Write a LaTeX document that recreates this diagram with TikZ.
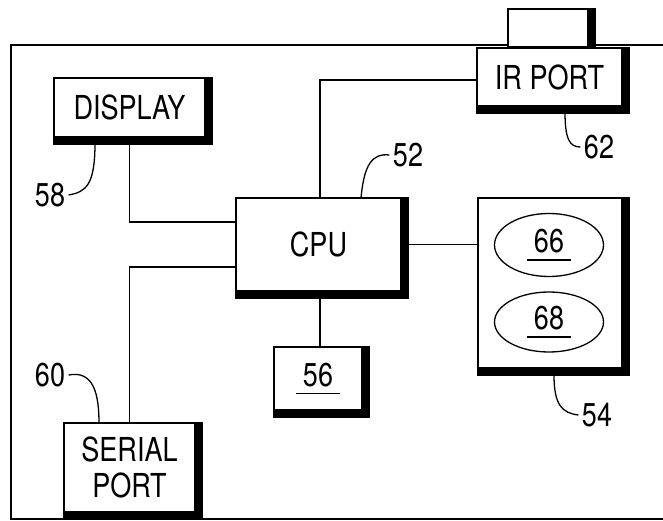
\documentclass[tikz,border=0pt]{standalone}
\usepackage{fontspec}
\setmainfont{TeX Gyre Heros}[FakeStretch=0.82]
\usepackage{tikz}
\usetikzlibrary{shapes.geometric, calc, positioning}
\newcommand{\heavyedge}[1]{%
  \fill (#1.north east) rectangle ([shift={(7pt,-7pt)}]#1.south east);
  \fill (#1.south west) rectangle ([shift={(7pt,-7pt)}]#1.south east);}
\newcommand{\ulnum}[1]{\vtop{\hbox to 44pt{\hfil#1\hfil}\kern6pt\hrule height 1.6pt}}

\begin{document}
\begin{tikzpicture}[x=1pt, y=-1pt, every node/.style={font=\fontsize{33}{36}\selectfont},
  blk/.style={draw, fill=white, line width=1.3pt, inner sep=0pt, align=center},
  disk/.style={ellipse, draw, line width=1.3pt, inner sep=0pt, minimum width=109pt},
  lead/.style={line width=1.3pt}]
  \useasboundingbox (0,0) rectangle (663,521);
  \draw[line width=2pt] (663,45) -- (11,45) -- (11,519) -- (663,519);
  \node[blk, minimum width=80pt, minimum height=38pt] (ant) at (548,28) {};
  \node[blk, minimum width=145pt, minimum height=58pt] (ir) at (549.5,77) {IR PORT};
  \node[blk, minimum width=151pt, minimum height=59pt] (display) at (129.5,107.5) {DISPLAY};
  \node[blk, minimum width=165pt, minimum height=93pt] (cpu) at (318.5,244.5) {CPU};
  \node[blk, minimum width=144pt, minimum height=170pt] (mem) at (550,283) {};
  \node[blk, minimum width=88pt, minimum height=63pt] (stor) at (318,378.5) {\ulnum{56}};
  \node[blk, minimum width=131pt, minimum height=89pt] (serial) at (129.5,467.5) {SERIAL\\PORT};
  \node[disk, minimum height=63pt] (d66) at (549,245) {\ulnum{66}};
  \node[disk, minimum height=60pt] (d68) at (549,322) {\ulnum{68}};
  \fill (ant.north east) rectangle ([xshift=7pt]ant.south east);
  \foreach \n in {ir,display,cpu,mem,stor,serial} \heavyedge{\n}
  % connectors
  \draw[line width=1.3pt] (display.south) |- ([yshift=22.5pt]cpu.west);
  \draw[line width=1.3pt] (serial.north) |- ([yshift=-22.5pt]cpu.west);
  \draw[line width=1.3pt] ([xshift=1.5pt]cpu.north) |- ([yshift=-3pt]ir.west);
  \draw[line width=1.3pt] ([shift={(7pt,0pt)}]cpu.east) -- (cpu.east -| mem.west);
  \draw[line width=1.3pt] ([xshift=1.5pt]cpu.south) -- ([xshift=2pt]stor.north);
  % reference numerals
  \node (n52) at (408,155) {52};
  \node (n58) at (50,195) {58};
  \node (n62) at (599,147) {62};
  \node (n54) at (597,415) {54};
  \node (n60) at (50,375) {60};
  \coordinate (c52) at (361,198);
  \coordinate (c58) at (95,143);
  \coordinate (c62) at (565,112);
  \coordinate (c54) at (554,375);
  \coordinate (c60) at (99,423);
  \draw[lead] (c52) .. controls (364,165) and (372,153) .. (n52.west);
  \draw[lead] (c58) .. controls (95,185) and (86,192) .. (n58.east);
  \draw[lead] (c62) .. controls (565,140) and (570,147) .. (n62.west);
  \draw[lead] (c54) .. controls (554,405) and (562,413) .. (n54.west);
  \draw[lead] (n60.east) .. controls (94,370) and (99,395) .. (c60);
\end{tikzpicture}
\end{document}
